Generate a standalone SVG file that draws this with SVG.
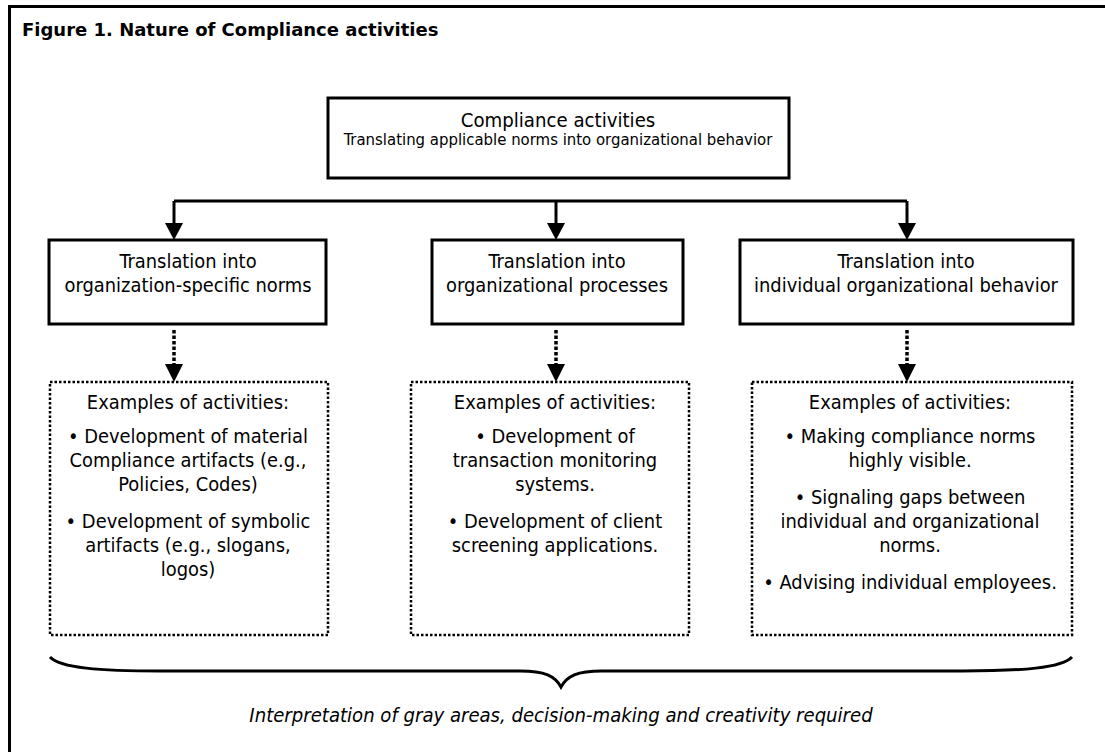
<svg xmlns="http://www.w3.org/2000/svg" width="1105" height="752" viewBox="0 0 1105 752">
<style>
text{font-family:"DejaVu Sans Condensed","DejaVu Sans",sans-serif;font-stretch:condensed;fill:#000;text-anchor:middle}
.t{font-size:19.9px}
.h{font-size:20.2px}
.s{font-size:16.6px}
.title{font-family:"DejaVu Sans","Liberation Sans",sans-serif;font-stretch:normal;font-weight:bold;font-size:18px;text-anchor:start}
.it{font-size:20.1px;font-style:italic}
.box{fill:#fff;stroke:#000;stroke-width:3}
.dbox{fill:#fff;stroke:#000;stroke-width:2.5;stroke-dasharray:2.5 2}
.ln{fill:none;stroke:#000;stroke-width:3}
.dl{fill:none;stroke:#000;stroke-width:3.5;stroke-dasharray:3.5 2}
.ah{fill:#000}
</style>
<rect x="0" y="0" width="1105" height="752" fill="#fff"/>
<path d="M9.5,752 V6.5 H1105" class="ln"/>
<text class="title" x="22" y="36">Figure 1. Nature of Compliance activities</text>

<g id="connectors">
<path class="ln" d="M174,201 H907"/>
<path class="ln" d="M174,201 V226"/>
<path class="ln" d="M556,201 V226"/>
<path class="ln" d="M907,201 V226"/>
<polygon class="ah" points="165,223 183,223 174,240"/>
<polygon class="ah" points="547,223 565,223 556,240"/>
<polygon class="ah" points="898,223 916,223 907,240"/>
<path class="dl" d="M174,330 V366"/>
<path class="dl" d="M556,330 V366"/>
<path class="dl" d="M907,330 V366"/>
<polygon class="ah" points="165,364 183,364 174,382"/>
<polygon class="ah" points="547,364 565,364 556,382"/>
<polygon class="ah" points="898,364 916,364 907,382"/>
</g>

<g id="top">
<rect class="box" x="328" y="98" width="461" height="80"/>
<text class="h" x="558" y="127">Compliance activities</text>
<text class="s" x="558" y="145">Translating applicable norms into organizational behavior</text>
</g>

<g id="norms">
<rect class="box" x="49" y="240" width="277" height="84"/>
<text class="t" x="188" y="268">Translation into</text>
<text class="t" x="188" y="292">organization-specific norms</text>
</g>
<g id="processes">
<rect class="box" x="432" y="240" width="251" height="84"/>
<text class="t" x="557" y="268">Translation into</text>
<text class="t" x="557" y="292">organizational processes</text>
</g>
<g id="behavior">
<rect class="box" x="740" y="240" width="333" height="84"/>
<text class="t" x="906" y="268">Translation into</text>
<text class="t" x="906" y="292">individual organizational behavior</text>
</g>

<g id="ex-norms">
<rect class="dbox" x="50" y="382" width="278" height="253"/>
<text class="t" x="188" y="409">Examples of activities:</text>
<text class="t" x="188" y="443">• Development of material</text>
<text class="t" x="188" y="467">Compliance artifacts (e.g.,</text>
<text class="t" x="188" y="491">Policies, Codes)</text>
<text class="t" x="188" y="528">• Development of symbolic</text>
<text class="t" x="188" y="552">artifacts (e.g., slogans,</text>
<text class="t" x="188" y="576">logos)</text>
</g>
<g id="ex-processes">
<rect class="dbox" x="411" y="382" width="278" height="253"/>
<text class="t" x="555" y="409">Examples of activities:</text>
<text class="t" x="555" y="443">• Development of</text>
<text class="t" x="555" y="467">transaction monitoring</text>
<text class="t" x="555" y="491">systems.</text>
<text class="t" x="555" y="528">• Development of client</text>
<text class="t" x="555" y="552">screening applications.</text>
</g>
<g id="ex-behavior">
<rect class="dbox" x="752" y="382" width="320" height="253"/>
<text class="t" x="910" y="409">Examples of activities:</text>
<text class="t" x="910" y="443">• Making compliance norms</text>
<text class="t" x="910" y="467">highly visible.</text>
<text class="t" x="910" y="504">• Signaling gaps between</text>
<text class="t" x="910" y="528">individual and organizational</text>
<text class="t" x="910" y="552">norms.</text>
<text class="t" x="910" y="589">• Advising individual employees.</text>
</g>

<g id="brace">
<path class="ln" d="M50,657 C60,668 100,671 160,671 L520,671 C545,671 555,676 561,687 C567,676 577,671 602,671 L962,671 C1022,671 1062,668 1072,657"/>
<text class="it" x="561" y="722">Interpretation of gray areas, decision-making and creativity required</text>
</g>
</svg>
